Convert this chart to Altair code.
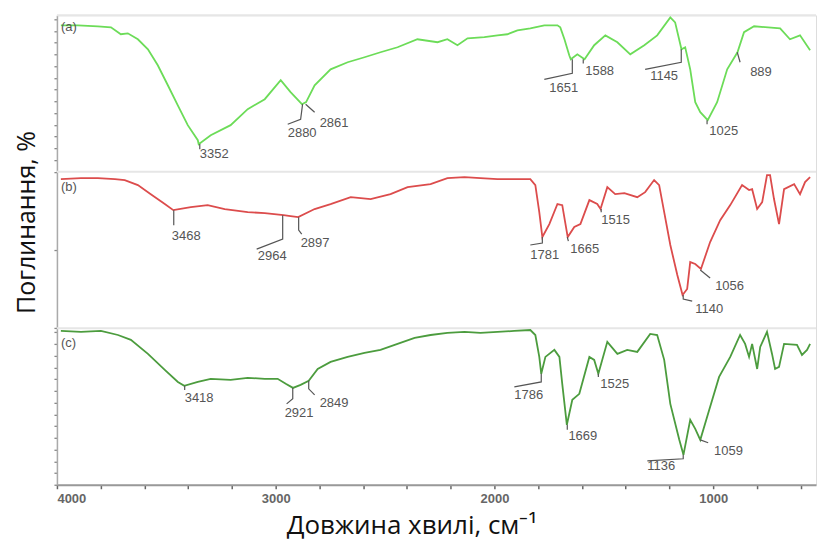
import altair as alt
import pandas as pd

# ---------------- spectra (wavenumber, cm-1 ; relative % within its own panel) ----------------
wn_a = [3982, 3904, 3813, 3753, 3708, 3676, 3630, 3584, 3539, 3493, 3448, 3402, 3356, 3352,
        3297, 3206, 3128, 3050, 2977, 2932, 2880, 2861, 2822, 2749, 2671, 2594, 2521, 2443,
        2352, 2260, 2215, 2169, 2123, 2046, 1986, 1941, 1895, 1836, 1772, 1712, 1699, 1680,
        1658, 1651, 1621, 1588, 1544, 1493, 1438, 1379, 1315, 1256, 1196, 1174, 1145, 1128,
        1105, 1082, 1059, 1025, 982, 936, 889, 859, 813, 694, 649, 603, 557]
val_a = [93.6, 93.6, 93.0, 92.3, 87.9, 88.5, 84.7, 78.3, 68.1, 55.3, 42.6, 29.8, 20.2, 17.7,
         23.4, 29.8, 40.0, 46.4, 58.5, 50.9, 43.2, 44.5, 55.3, 65.5, 70.0, 73.2, 76.4, 79.6,
         84.7, 82.8, 84.7, 80.9, 85.3, 86.0, 87.2, 87.9, 90.4, 91.7, 93.6, 93.6, 92.3, 84.7,
         74.5, 71.9, 75.1, 71.9, 80.9, 87.2, 82.8, 75.1, 80.9, 87.2, 98.7, 95.5, 78.3, 79.6,
         65.5, 44.5, 38.1, 33.0, 44.5, 65.5, 76.4, 89.2, 93.0, 91.7, 84.7, 87.2, 77.7]

wn_b = [3982, 3890, 3813, 3735, 3690, 3630, 3571, 3507, 3468, 3388, 3311, 3233, 3128, 3050,
        2964, 2932, 2897, 2822, 2749, 2657, 2566, 2475, 2397, 2292, 2215, 2137, 2064, 1986,
        1909, 1836, 1813, 1795, 1781, 1749, 1712, 1690, 1665, 1635, 1607, 1566, 1530, 1515,
        1484, 1448, 1406, 1347, 1311, 1270, 1247, 1224, 1196, 1164, 1140, 1119, 1105, 1082,
        1056, 1014, 968, 922, 868, 836, 822, 799, 776, 754, 740, 722, 699, 676, 630, 603,
        580, 557]
val_b = [95.3, 96.0, 96.0, 95.3, 94.7, 91.5, 85.7, 79.4, 75.5, 77.4, 78.7, 76.2, 74.2, 73.6,
         72.3, 71.7, 71.0, 76.2, 79.4, 83.8, 82.6, 85.7, 90.2, 92.1, 96.0, 96.6, 96.0, 95.3,
         95.3, 95.3, 91.5, 74.2, 58.3, 66.6, 79.4, 78.7, 58.3, 64.7, 66.6, 81.9, 79.4, 76.2,
         90.2, 85.7, 86.4, 83.8, 87.0, 94.7, 91.5, 74.2, 53.2, 34.0, 21.3, 25.1, 42.3, 41.1,
         37.9, 55.1, 69.1, 78.7, 91.5, 88.3, 88.9, 76.2, 80.6, 97.9, 97.9, 82.6, 66.6, 88.9,
         92.1, 85.7, 93.4, 96.6]

wn_c = [3982, 3890, 3799, 3721, 3662, 3584, 3507, 3447, 3418, 3356, 3297, 3206, 3128, 3050,
        2991, 2954, 2921, 2886, 2849, 2808, 2749, 2671, 2594, 2521, 2443, 2365, 2292, 2215,
        2137, 2064, 1986, 1909, 1836, 1813, 1795, 1786, 1767, 1726, 1703, 1690, 1669, 1644,
        1612, 1566, 1544, 1525, 1484, 1438, 1393, 1347, 1288, 1256, 1224, 1196, 1155, 1136,
        1105, 1082, 1059, 1018, 973, 922, 877, 854, 836, 822, 799, 785, 754, 731, 717, 699,
        676, 617, 594, 571, 557]
val_c = [98.3, 97.7, 98.3, 95.7, 92.6, 83.6, 73.4, 65.7, 63.2, 65.7, 67.7, 67.0, 68.3, 67.7,
         67.7, 64.5, 61.9, 63.8, 66.4, 74.0, 78.5, 81.7, 84.3, 86.2, 90.0, 93.8, 95.7, 97.0,
         97.7, 97.0, 97.7, 98.3, 98.9, 95.7, 81.7, 70.9, 81.7, 86.2, 81.7, 64.5, 38.3, 54.3,
         58.1, 81.7, 79.8, 70.9, 91.3, 83.6, 86.2, 84.9, 96.4, 95.7, 79.8, 51.7, 28.7, 19.1,
         41.5, 35.7, 28.7, 47.9, 68.9, 81.7, 95.7, 90.0, 81.7, 90.0, 74.0, 88.1, 97.7, 83.6,
         74.0, 75.3, 90.0, 89.4, 83.0, 86.2, 90.0]

series_names = ["a", "b", "c"]
series_colors = ["#6cdc58", "#dc4c4c", "#4c9c3e"]
panel_offset = {"a": 2, "b": 1, "c": 0}

# ---------------- peak annotations: label, leader path [(wn, %)], label anchor (wn, %) ----------------
peaks_a = [
    ("3352", [(3347, 17.7), (3347, 14.4)], (3347, 11.3)),
    ("2880", [(2877, 43.2), (2886, 33.6), (2945, 30.4)], (2945, 24.7)),
    ("2861", [(2863, 43.2), (2822, 38.1)], (2799, 31.1)),
    ("1651", [(1644, 71.9), (1644, 63.0), (1772, 59.1)], (1749, 53.4)),
    ("1588", [(1594, 71.9), (1594, 69.2)], (1585, 64.2)),
    ("1145", [(1146, 78.3), (1146, 70.0), (1311, 65.5)], (1288, 61.1)),
    ("1025", [(1028, 33.0), (1028, 30.4)], (1018, 26.0)),
    ("889", [(890, 76.4), (877, 70.0)], (831, 63.6)),
]
peaks_b = [
    ("3468", [(3466, 75.5), (3466, 65.9)], (3475, 58.9)),
    ("2964", [(2968, 72.3), (2968, 57.0), (3087, 50.6)], (3082, 46.2)),
    ("2897", [(2895, 71.0), (2895, 62.8), (2881, 60.2)], (2886, 54.5)),
    ("1781", [(1781, 58.3), (1781, 54.5), (1836, 53.2)], (1836, 46.8)),
    ("1665", [(1667, 58.3), (1662, 55.7)], (1653, 50.6)),
    ("1515", [(1512, 76.2), (1512, 74.2)], (1512, 69.1)),
    ("1140", [(1137, 21.3), (1137, 18.7), (1096, 17.4)], (1082, 12.3)),
    ("1056", [(1059, 37.2), (1014, 32.1)], (991, 27.0)),
]
peaks_c = [
    ("3418", [(3416, 63.2), (3416, 60.6)], (3416, 55.5)),
    ("2921", [(2922, 61.9), (2922, 54.9), (2950, 51.7)], (2959, 46.0)),
    ("2849", [(2849, 66.4), (2849, 61.3), (2822, 57.4)], (2799, 52.3)),
    ("1786", [(1786, 70.9), (1786, 65.7), (1909, 62.6)], (1909, 57.4)),
    ("1669", [(1667, 38.3), (1667, 35.1)], (1662, 31.3)),
    ("1525", [(1525, 70.9), (1525, 68.9)], (1516, 64.5)),
    ("1136", [(1137, 19.1), (1137, 16.6), (1301, 15.3)], (1301, 12.1)),
    ("1059", [(1059, 28.7), (1023, 26.8)], (996, 21.7)),
]
panel_tags = [("a", "(a)", 3982, 92.3), ("b", "(b)", 3982, 90.2), ("c", "(c)", 3982, 90.6)]

x_tick_values = list(range(4000, 500, -200))
y_tick_values = ([round(i * 0.075, 3) for i in range(14)] + [1.0, 1.5, 2.0]
                 + [round(2 + i * 0.075, 3) for i in range(14)])

# ---------------- build tables ----------------
spec_rows = []
for s, wn, val in (("a", wn_a, val_a), ("b", wn_b, val_b), ("c", wn_c, val_c)):
    for i, (w, v) in enumerate(zip(wn, val)):
        spec_rows.append({"series": s, "w": w, "y": panel_offset[s] + v / 100, "i": i})
spec = pd.DataFrame(spec_rows)

lead_rows, lab_rows = [], []
for s, peaks in (("a", peaks_a), ("b", peaks_b), ("c", peaks_c)):
    for lab, path, (lw, lv) in peaks:
        for i, (w, v) in enumerate(path):
            lead_rows.append({"id": s + lab, "w": w, "y": panel_offset[s] + v / 100, "i": i})
        lab_rows.append({"label": lab, "w": lw, "y": panel_offset[s] + lv / 100})
for s, t, w, v in panel_tags:
    lab_rows.append({"label": t, "w": w, "y": panel_offset[s] + v / 100})
leads = pd.DataFrame(lead_rows)
labs = pd.DataFrame(lab_rows)
seps = pd.DataFrame({"y": [1, 2, 3]})

FONT = "Liberation Sans"

x_enc = alt.X("w:Q",
              scale=alt.Scale(domain=[4000, 530], nice=False, zero=False),
              axis=alt.Axis(values=x_tick_values, tickCount=100, format="d",
                            labelExpr="datum.value % 1000 === 0 ? datum.label : ''",
                            title="Довжина хвилі, см⁻¹", titleFont="Open Sans",
                            titleFontSize=26, titleFontWeight="normal", titleColor="#111",
                            titleX=355, titleY=49, titleBaseline="alphabetic", titleAlign="center",
                            labelFont=FONT, labelFontSize=13, labelColor="#666",
                            labelFontWeight="bold", labelPadding=4,
                            tickSize=4, tickColor="#666", tickWidth=1.5,
                            domainColor="#999", domainWidth=2, grid=False))
y_enc = alt.Y("y:Q",
              scale=alt.Scale(domain=[0, 3], nice=False, zero=False),
              axis=alt.Axis(values=y_tick_values, tickCount=100, labels=False,
                            title="Поглинання, %", titleFont="Open Sans", titleFontSize=25,
                            titleFontWeight="normal", titleColor="#111",
                            titleAngle=270, titleX=-22, titleY=207, titleAlign="center",
                            titleBaseline="alphabetic",
                            tickSize=3, tickColor="#888", tickWidth=1.3,
                            domainColor="#aaa", domainWidth=1.5, grid=False))

sep_layer = alt.Chart(seps).mark_rule(color="#e6e6e6", strokeWidth=2).encode(y="y:Q")

lines = alt.Chart(spec).mark_line(strokeWidth=1.8).encode(
    x=x_enc, y=y_enc,
    color=alt.Color("series:N", scale=alt.Scale(domain=series_names, range=series_colors),
                    legend=None),
    order="i:Q",
)

leaders = alt.Chart(leads).mark_line(color="#555", strokeWidth=1.2).encode(
    x="w:Q", y="y:Q", detail="id:N", order="i:Q")

texts = alt.Chart(labs).mark_text(align="left", baseline="middle", font=FONT, fontSize=13,
                                  color="#555").encode(x="w:Q", y="y:Q", text="label:N")

chart = alt.layer(sep_layer, lines, leaders, texts).properties(
    width=760, height=470,
    padding={"left": 7, "top": 5, "right": 0, "bottom": 3},
).configure_view(stroke=None).configure(background="white")

chart.save("out.html", embed_options={"renderer": "svg", "actions": False})
